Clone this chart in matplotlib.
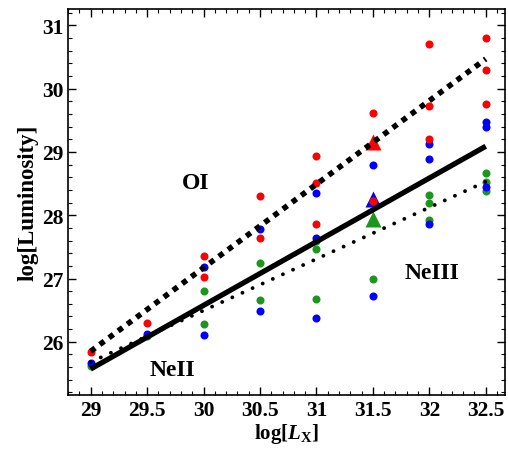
import matplotlib
matplotlib.use("Agg")
import matplotlib.pyplot as plt
from matplotlib.ticker import MultipleLocator
import numpy as np

plt.rcParams['font.family'] = ['Liberation Serif', 'DejaVu Serif']
plt.rcParams['mathtext.fontset'] = 'custom'
plt.rcParams['mathtext.rm'] = 'Liberation Serif:bold'
plt.rcParams['mathtext.it'] = 'Liberation Serif:italic:bold'
plt.rcParams['mathtext.bf'] = 'Liberation Serif:bold'

# Data (log L_X, log Luminosity)
red_x = [29, 29.5, 30, 30, 30.5, 30.5, 31, 31, 31, 31.5, 31.5, 32, 32, 32, 32.5, 32.5, 32.5]
red_y = [25.84, 26.30, 27.35, 27.03, 28.31, 27.64, 28.93, 28.51, 27.86, 29.62, 28.23,
         30.70, 29.73, 29.21, 30.80, 30.29, 29.75]
blue_x = [29, 29.5, 30, 30, 30.5, 30.5, 31, 31, 31, 31.5, 31.5, 32, 32, 32, 32.5, 32.5, 32.5]
blue_y = [25.67, 26.13, 27.18, 26.10, 27.79, 26.48, 28.35, 27.64, 26.37, 28.79, 26.72,
          29.12, 28.89, 27.86, 29.47, 29.39, 28.44]
green_x = [29, 29.5, 30, 30, 30.5, 30.5, 31, 31, 31, 31.5, 32, 32, 32, 32.5, 32.5, 32.5]
green_y = [25.62, 26.09, 26.80, 26.28, 27.25, 26.66, 27.59, 27.47, 26.68, 26.99,
           28.32, 28.20, 27.93, 28.67, 28.53, 28.39]

# Triangles (mean values)
tri_x = [31.5, 31.5, 31.5]
tri_y = [29.15, 28.26, 27.94]
tri_colors = ['red', 'blue', '#1e961e']

# Fit lines: endpoints
line_x = [29, 32.5]
oi_line = [25.85, 30.47]
neii_line = [25.57, 29.09]
neiii_line = [25.68, 28.53]

labels = ['OI', 'NeII', 'NeIII']
label_pos = [(29.93, 28.51), (29.72, 25.57), (32.02, 27.10)]

fig = plt.figure(figsize=(5.08, 4.52), dpi=100)
ax = fig.add_axes([0.134, 0.124, 0.860, 0.854])

green = '#1e961e'
ms = 5.8
ax.plot(green_x, green_y, 'o', color=green, ms=ms, mec='none', zorder=2)
ax.plot(blue_x, blue_y, 'o', color='blue', ms=ms, mec='none', zorder=2)
ax.plot(red_x, red_y, 'o', color='red', ms=ms, mec='none', zorder=2)

for xx, yy, c in zip(tri_x, tri_y, tri_colors):
    ax.plot(xx, yy, '^', color=c, ms=11, mec='none', zorder=1.5)
# red dot sits on top of blue triangle in reference
ax.plot([31.5], [28.23], 'o', color='red', ms=ms, mec='none', zorder=2.1)

ax.plot(line_x, neii_line, '-', color='black', lw=3.8, zorder=3, solid_capstyle='butt')
ax.plot(line_x, oi_line, color='black', lw=4.0, zorder=3,
        linestyle=(0, (1, 1.05)), dash_capstyle='butt')
ax.plot(line_x, neiii_line, color='black', lw=2.8, zorder=3,
        linestyle=(0, (0.01, 2.85)), dash_capstyle='round')

for t, (px, py) in zip(labels, label_pos):
    ax.text(px, py, t, fontsize=17, fontweight='bold', ha='center', va='center')

ax.set_xlim(28.80, 32.67)
ax.set_ylim(25.16, 31.26)
ax.xaxis.set_minor_locator(MultipleLocator(0.1))
ax.yaxis.set_major_locator(MultipleLocator(1))
ax.yaxis.set_minor_locator(MultipleLocator(0.2))
ax.set_xticks(np.arange(29, 32.51, 0.5))
ax.set_xticklabels(['29', '29.5', '30', '30.5', '31', '31.5', '32', '32.5'])
ax.tick_params(which='both', direction='in', top=True, right=True, labelsize=15.5)
ax.tick_params(which='major', length=6, width=1)
ax.tick_params(which='minor', length=3, width=0.8)
for lab in ax.get_xticklabels() + ax.get_yticklabels():
    lab.set_fontweight('bold')
for s in ax.spines.values():
    s.set_linewidth(1.2)

ax.set_xlabel(r'log[$L_{\mathrm{X}}$]', fontsize=15, fontweight='bold', labelpad=1)
ax.set_ylabel('log[Luminosity]', fontsize=16.5, fontweight='bold', labelpad=2)

fig.savefig('out.png', dpi=100)
